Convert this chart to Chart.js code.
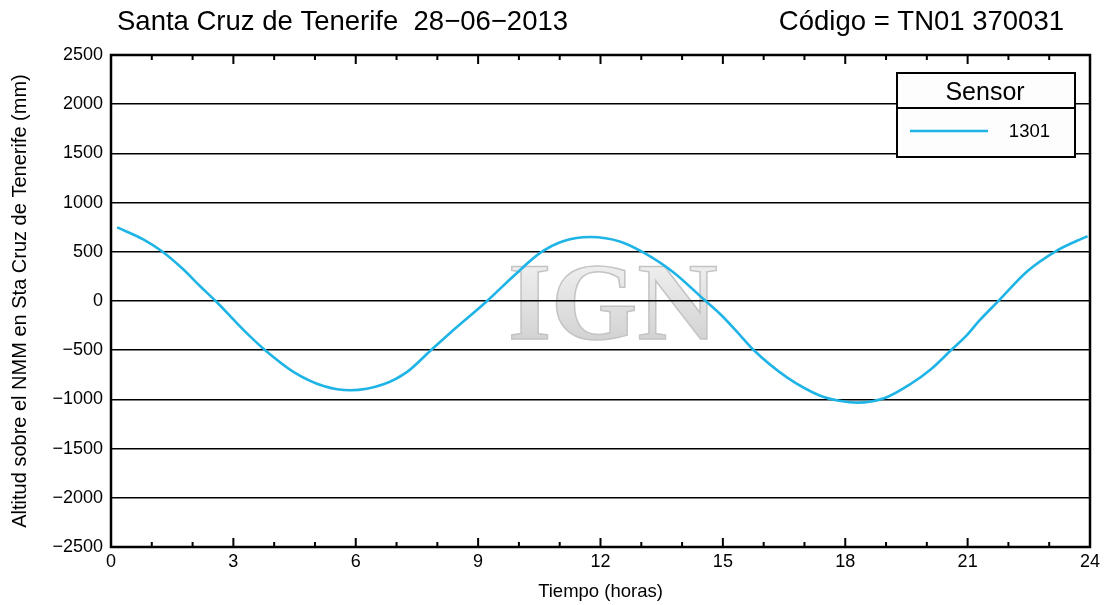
<!DOCTYPE html>
<html>
<head>
<meta charset="utf-8">
<title>Santa Cruz de Tenerife 28-06-2013</title>
<script src="https://cdn.jsdelivr.net/npm/chart.js@4.4.1/dist/chart.umd.min.js"></script>
<style>
  html, body { margin: 0; padding: 0; background: #fff; }
  canvas { display: block; }
</style>
</head>
<body>
<canvas id="tideChart" width="1110" height="605"></canvas>
<script>
// Sea level readings (mm above NMM)
const hours = [0.15, 0.79, 1.24, 1.77, 2.18, 2.59, 3.12, 3.41, 3.78, 4.47, 5.21, 5.87,
    6.68, 7.26, 7.83, 8.32, 9.22, 9.87, 10.53, 11.1, 11.75, 12.49, 13.06, 13.8,
    14.53, 14.94, 15.44, 15.76, 16.58, 17.4, 17.89, 18.3, 18.95, 19.61, 20.1, 20.59,
    21.0, 21.28, 21.77, 22.47, 23.17, 23.94];
const sensor1301 = [748, 627, 508, 322, 152, -10, -240, -360, -501, -720, -864, -907,
    -846, -720, -505, -322, 0, 254, 491, 610, 650, 603, 491, 288,
    17, -135, -356, -501, -779, -965, -1016, -1033, -989, -841, -694, -501,
    -339, -203, 7, 305, 508, 660];

const sensorLabel = '1301';
const legendTitle = 'Sensor';
const titleLeft = 'Santa Cruz de Tenerife  28\u221206\u22122013';
const titleRight = 'C\u00f3digo = TN01 370031';
const xTitle = 'Tiempo (horas)';
const yTitle = 'Altitud sobre el NMM en Sta Cruz de Tenerife (mm)';
const tickHours = [0, 1, 2, 3, 4, 5, 6, 7, 8, 9, 10, 11, 12, 13, 14, 15, 16, 17, 18, 19, 20, 21, 22, 23, 24];

const lineColor = '#1fb4e6';
const FONT = '"Liberation Sans", Arial, Helvetica, sans-serif';

const points = hours.map((h, i) => ({ x: h, y: sensor1301[i] }));

// IGN watermark behind the grid
const watermark = {
    id: 'watermark',
    beforeDraw(chart) {
        const ctx = chart.ctx;
        ctx.save();
        ctx.fillStyle = '#fff';
        ctx.fillRect(0, 0, chart.width, chart.height);
        const xs = chart.scales.x, ys = chart.scales.y;
        const cx = (xs.getPixelForValue(9.8) + xs.getPixelForValue(14.8)) / 2;
        const base = ys.getPixelForValue(-385);
        ctx.font = 'bold 111px "Liberation Serif", "Times New Roman", serif';
        ctx.textAlign = 'center';
        ctx.textBaseline = 'alphabetic';
        const grad = ctx.createLinearGradient(0, base - 76, 0, base);
        grad.addColorStop(0, '#efefef');
        grad.addColorStop(0.45, '#e3e3e3');
        grad.addColorStop(1, '#d3d3d3');
        ctx.fillStyle = grad;
        ctx.fillText('IGN', cx, base);
        ctx.lineWidth = 1.5;
        ctx.strokeStyle = '#c4c4c4';
        ctx.strokeText('IGN', cx, base);
        ctx.restore();
    }
};

// frame, hour ticks, titles and legend box
const decorations = {
    id: 'decorations',
    afterDraw(chart) {
        const ctx = chart.ctx;
        const area = chart.chartArea;
        const xs = chart.scales.x;
        ctx.save();

        ctx.strokeStyle = '#000';
        ctx.lineWidth = 2;
        tickHours.forEach(h => {
            const px = xs.getPixelForValue(h);
            const len = h % 3 === 0 ? 9 : 5;
            ctx.beginPath();
            ctx.moveTo(px, area.bottom);
            ctx.lineTo(px, area.bottom - len);
            ctx.moveTo(px, area.top);
            ctx.lineTo(px, area.top + len);
            ctx.stroke();
        });

        ctx.lineWidth = 2.5;
        ctx.strokeRect(area.left, area.top, area.right - area.left, area.bottom - area.top);

        ctx.fillStyle = '#000';
        ctx.font = '27.5px ' + FONT;
        ctx.textBaseline = 'middle';
        ctx.textAlign = 'left';
        ctx.fillText(titleLeft, 117, 22);
        ctx.textAlign = 'right';
        ctx.fillText(titleRight, 1064, 22);

        // legend
        const bx = 897, by = 73, bw = 178, bh = 84;
        ctx.fillStyle = '#fdfdfd';
        ctx.fillRect(bx, by, bw, bh);
        ctx.lineWidth = 2;
        ctx.strokeStyle = '#000';
        ctx.strokeRect(bx, by, bw, bh);
        ctx.beginPath();
        ctx.moveTo(bx, by + 35);
        ctx.lineTo(bx + bw, by + 35);
        ctx.stroke();
        ctx.fillStyle = '#000';
        ctx.textAlign = 'center';
        ctx.font = '25px ' + FONT;
        ctx.fillText(legendTitle, bx + 88, by + 20);
        const ds = chart.data.datasets[0];
        ctx.strokeStyle = ds.borderColor;
        ctx.lineWidth = 2.5;
        ctx.beginPath();
        ctx.moveTo(bx + 13, by + 58);
        ctx.lineTo(bx + 91, by + 58);
        ctx.stroke();
        ctx.textAlign = 'right';
        ctx.font = '18.5px ' + FONT;
        ctx.fillText(ds.label, bx + 153, by + 59);

        ctx.restore();
    }
};

const minus = v => String(v).replace('-', '\u2212');

new Chart(document.getElementById('tideChart'), {
    type: 'line',
    data: {
        datasets: [{
            label: sensorLabel,
            data: points,
            borderColor: lineColor,
            borderWidth: 2.6,
            pointRadius: 0,
            fill: false,
            cubicInterpolationMode: 'monotone'
        }]
    },
    options: {
        responsive: false,
        devicePixelRatio: 1,
        animation: false,
        layout: { padding: { top: 55, right: 20, left: 0, bottom: 0 } },
        plugins: {
            legend: { display: false },
            title: { display: false },
            tooltip: { enabled: false }
        },
        scales: {
            x: {
                type: 'linear',
                min: 0,
                max: 24,
                afterFit(scale) { scale.height = 58; },
                grid: { display: false, drawTicks: false },
                border: { display: false },
                ticks: {
                    stepSize: 3,
                    padding: 4,
                    color: '#000',
                    font: { family: FONT, size: 18 },
                    maxRotation: 0
                },
                title: {
                    display: true,
                    text: xTitle,
                    color: '#000',
                    font: { family: FONT, size: 18.5 },
                    padding: { top: 0, bottom: 2 }
                }
            },
            y: {
                min: -2500,
                max: 2500,
                afterFit(scale) { scale.width = 111; },
                grid: { color: '#000', lineWidth: 1.5, drawTicks: false },
                border: { display: false },
                ticks: {
                    stepSize: 500,
                    padding: 8,
                    color: '#000',
                    font: { family: FONT, size: 18 },
                    callback: v => minus(v)
                },
                title: {
                    display: true,
                    text: yTitle,
                    color: '#000',
                    font: { family: FONT, size: 20 },
                    padding: { top: 8, bottom: 0 }
                }
            }
        }
    },
    plugins: [watermark, decorations]
});
</script>
</body>
</html>
